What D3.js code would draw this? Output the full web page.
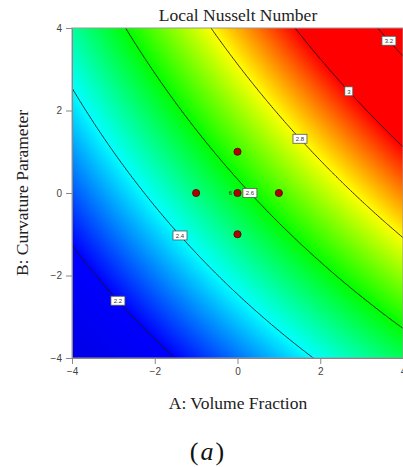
<!DOCTYPE html>
<html>
<head>
<meta charset="utf-8">
<script src="https://cdn.jsdelivr.net/npm/d3@7"></script>
<style>
body { margin: 0; background: #fff; }
</style>
</head>
<body>
<div id="chart"></div>
<script>
// Response surface (quadratic model), terms
// order: intercept, A, B, AB, A^2, B^2
const modelTerms = ["Intercept", "A", "B", "AB", "A^2", "B^2"]
const modelCoefs = [2.576, 0.079, 0.0717, 0.0048, 0.0004, 0.0]

// contour levels and the A value where each label sits
const contourLevels = [2.2, 2.4, 2.6, 2.8, 3.0, 3.2]
const contourLabels = ["2.2", "2.4", "2.6", "2.8", "3", "3.2"]
const labelAtA = [-2.89, -1.39, 0.3, 1.51, 2.69, 3.66]

// design points
const designA = [0, -1, 1, 0, 0]
const designB = [0, 0, 0, 1, -1]
const centerRuns = "6"

const xTicks = [-4, -2, 0, 2, 4]
const yTicks = [-4, -2, 0, 2, 4]

const colorStops = [2.0, 2.2, 2.4, 2.6, 2.8, 3.0]
const colorRange = ["#0000dc", "#0000ff", "#00ffff", "#00ff00", "#ffff00", "#ff0000"]

const svgWidth = 403
const svgHeight = 467

let margin = { top: 28, right: 0, bottom: 109, left: 72 }
let width = svgWidth - margin.left - margin.right
let height = svgHeight - margin.top - margin.bottom

// model value at (a, b)
function response(a, b) {
  let c = modelCoefs
  return c[0] + c[1] * a + c[2] * b + c[3] * a * b + c[4] * a * a + c[5] * b * b
}

let x = d3.scaleLinear().domain([-4, 4]).range([0, width])
let y = d3.scaleLinear().domain([-4, 4]).range([height, 0])
let color = d3.scaleLinear().domain(colorStops).range(colorRange).clamp(true)

let svg = d3
  .select("#chart")
  .append("svg")
  .attr("width", svgWidth)
  .attr("height", svgHeight)
  .style("display", "block")

let serif = "'Liberation Serif', 'Times New Roman', serif"
let sans = "'Liberation Sans', Arial, sans-serif"

svg.append("text")
  .attr("x", margin.left + 166)
  .attr("y", 21)
  .attr("text-anchor", "middle")
  .style("font", `17.5px ${serif}`)
  .style("fill", "#222")
  .text("Local Nusselt Number")

let chartGroup = svg
  .append("g")
  .attr("transform", `translate(${margin.left}, ${margin.top})`)

svg.append("defs").append("clipPath")
  .attr("id", "plotClip")
  .append("rect")
  .attr("width", width)
  .attr("height", height)

// colour field drawn onto a canvas, then placed in the svg
let canvas = document.createElement("canvas")
canvas.width = width
canvas.height = height
let ctx = canvas.getContext("2d")
let img = ctx.createImageData(width, height)
for (let j = 0; j < height; j++) {
  for (let i = 0; i < width; i++) {
    let c = d3.rgb(color(response(x.invert(i + 0.5), y.invert(j + 0.5))))
    let k = (j * width + i) * 4
    img.data[k] = c.r
    img.data[k + 1] = c.g
    img.data[k + 2] = c.b
    img.data[k + 3] = 255
  }
}
ctx.putImageData(img, 0, 0)

let plot = chartGroup.append("g").attr("clip-path", "url(#plotClip)")

plot.append("image")
  .attr("width", width)
  .attr("height", height)
  .attr("preserveAspectRatio", "none")
  .attr("href", canvas.toDataURL())

// contour lines on a grid a little wider than the plot
let g0 = -4.3, step = 0.04
let n = Math.round(8.6 / step) + 1
let values = new Array(n * n)
for (let j = 0; j < n; j++) {
  for (let i = 0; i < n; i++) {
    values[j * n + i] = response(g0 + i * step, g0 + j * step)
  }
}
let contours = d3.contours().size([n, n]).thresholds(contourLevels)(values)

let gridToPx = d3.geoTransform({
  point: function(gx, gy) {
    this.stream.point(x(g0 + (gx - 0.5) * step), y(g0 + (gy - 0.5) * step))
  }
})

plot.selectAll("path.contour")
  .data(contours)
  .enter()
  .append("path")
  .attr("class", "contour")
  .attr("d", d3.geoPath(gridToPx))
  .attr("fill", "none")
  .attr("stroke", "#1a1a1a")
  .attr("stroke-width", 0.9)

// find B on a contour for a given A
function contourB(level, a) {
  let lo = -8, hi = 8
  for (let t = 0; t < 50; t++) {
    let mid = (lo + hi) / 2
    if (response(a, mid) < level) lo = mid
    else hi = mid
  }
  return (lo + hi) / 2
}

let labelGroup = plot.selectAll("g.clabel")
  .data(contourLevels)
  .enter()
  .append("g")
  .attr("class", "clabel")
  .attr("transform", (d, i) => `translate(${x(labelAtA[i])}, ${y(contourB(d, labelAtA[i]))})`)

labelGroup.append("rect")
  .attr("x", (d, i) => -(contourLabels[i].length * 3 + 5) / 2)
  .attr("y", -4.5)
  .attr("width", (d, i) => contourLabels[i].length * 3 + 5)
  .attr("height", 9)
  .attr("fill", "#fff")
  .attr("stroke", "#555")
  .attr("stroke-width", 0.8)

labelGroup.append("text")
  .attr("text-anchor", "middle")
  .attr("y", 2.2)
  .style("font", `6px ${sans}`)
  .style("fill", "#333")
  .text((d, i) => contourLabels[i])

// design points
plot.selectAll("circle")
  .data(designA)
  .enter()
  .append("circle")
  .attr("cx", (d, i) => x(d))
  .attr("cy", (d, i) => y(designB[i]))
  .attr("r", 3.6)
  .attr("fill", "#b00000")
  .attr("stroke", "#500000")
  .attr("stroke-width", 0.8)

plot.append("text")
  .attr("x", x(0) - 7)
  .attr("y", y(0) + 2)
  .attr("text-anchor", "middle")
  .style("font", `6px ${sans}`)
  .style("fill", "#333")
  .text(centerRuns)

// frame and axes
chartGroup.append("rect")
  .attr("width", width)
  .attr("height", height)
  .attr("fill", "none")
  .attr("stroke", "#999")
  .attr("stroke-width", 1)

let bottomAxis = d3.axisBottom(x).tickValues(xTicks).tickSize(6).tickSizeOuter(0).tickPadding(4)
let leftAxis = d3.axisLeft(y).tickValues(yTicks).tickSize(6).tickSizeOuter(0).tickPadding(4)

let xAxis = chartGroup.append("g")
  .attr("transform", `translate(0, ${height})`)
  .call(bottomAxis)
let yAxis = chartGroup.append("g").call(leftAxis)

;[xAxis, yAxis].forEach(ax => {
  ax.selectAll("path, line").attr("stroke", "#888")
  ax.selectAll("text").style("font", `10px ${sans}`).attr("fill", "#444")
})

svg.append("text")
  .attr("x", margin.left + 166)
  .attr("y", 409)
  .attr("text-anchor", "middle")
  .style("font", `17.5px ${serif}`)
  .style("fill", "#222")
  .text("A: Volume Fraction")

svg.append("text")
  .attr("transform", `translate(28, ${margin.top + height / 2}) rotate(-90)`)
  .attr("text-anchor", "middle")
  .style("font", `17.5px ${serif}`)
  .style("fill", "#222")
  .text("B: Curvature Parameter")

// panel tag
let tag = svg.append("text")
  .attr("x", 207)
  .attr("y", 460)
  .attr("text-anchor", "middle")
  .style("font", `26px ${serif}`)
  .style("fill", "#111")
tag.append("tspan").text("(")
tag.append("tspan").attr("dx", 2).style("font-style", "italic").text("a")
tag.append("tspan").attr("dx", 2).text(")")
</script>
</body>
</html>
